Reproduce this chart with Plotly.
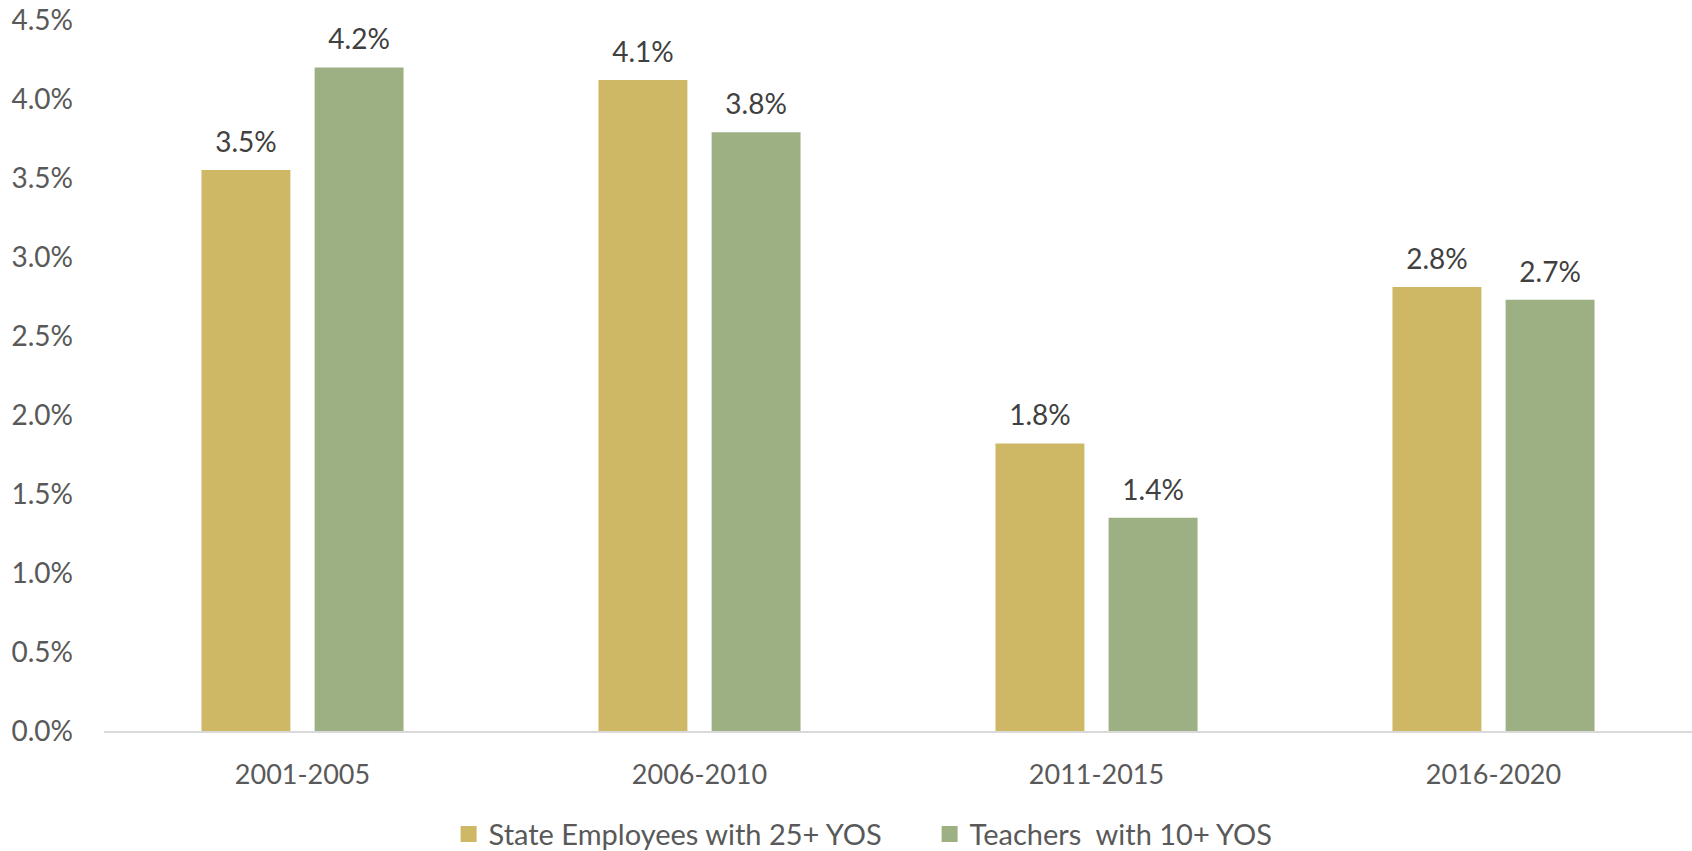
import plotly.graph_objects as go

# Periods and average growth rates (as fractions)
periods = ["2001-2005", "2006-2010", "2011-2015", "2016-2020"]
state_employees = [0.0355, 0.0412, 0.0182, 0.0281]
teachers = [0.0420, 0.0379, 0.0135, 0.0273]

series_names = ["State Employees with 25+ YOS", "Teachers  with 10+ YOS"]
series_colors = ["#CEB866", "#9DB083"]

FONT = "Lato"
BAR_GAP = 0.43

fig = go.Figure()

for name, vals, color in zip(series_names, [state_employees, teachers], series_colors):
    fig.add_trace(go.Bar(
        x=periods, y=vals, name=name, offsetgroup=name,
        marker=dict(color=color, line=dict(width=0)),
        showlegend=False, hoverinfo="skip",
    ))

# Value labels sit above each bar, grouped the same way as the bars
for name, vals in zip(series_names, [state_employees, teachers]):
    fig.add_trace(go.Scatter(
        x=periods, y=vals, offsetgroup=name, mode="markers+text",
        marker=dict(size=16, color="rgba(0,0,0,0)"),
        text=[f"{v:.1%}" for v in vals], textposition="top center",
        textfont=dict(family=FONT, size=28, color="#404040"),
        showlegend=False, hoverinfo="skip", cliponaxis=False,
    ))

# Legend entries with square swatches
for name, color in zip(series_names, series_colors):
    fig.add_trace(go.Scatter(
        x=[None], y=[None], name=name, mode="markers",
        marker=dict(symbol="square", size=18, color=color),
    ))

fig.update_layout(
    width=1692, height=851,
    margin=dict(l=104, r=0, t=20, b=120, autoexpand=False),
    paper_bgcolor="white", plot_bgcolor="white",
    barmode="group", bargap=BAR_GAP, bargroupgap=0.214,
    scattermode="group", scattergap=BAR_GAP,
    hovermode=False,
    font=dict(family=FONT, color="#595959"),
    legend=dict(
        orientation="h", x=0.217, xanchor="left", y=-0.145, yanchor="middle",
        font=dict(family=FONT, size=29, color="#595959"),
        itemwidth=30, tracegroupgap=0,
        entrywidth=436, entrywidthmode="pixels",
    ),
    xaxis=dict(
        showline=True, linecolor="#D9D9D9", linewidth=2,
        showgrid=False, ticks="", ticklabelstandoff=19,
        tickfont=dict(family=FONT, size=27, color="#595959"),
    ),
    yaxis=dict(
        range=[0, 0.045], dtick=0.005, tickformat=".1%",
        showgrid=False, zeroline=False, showline=False, ticks="",
        ticklabelstandoff=30,
        tickfont=dict(family=FONT, size=28, color="#595959"),
    ),
)

fig.write_html("out.html")
